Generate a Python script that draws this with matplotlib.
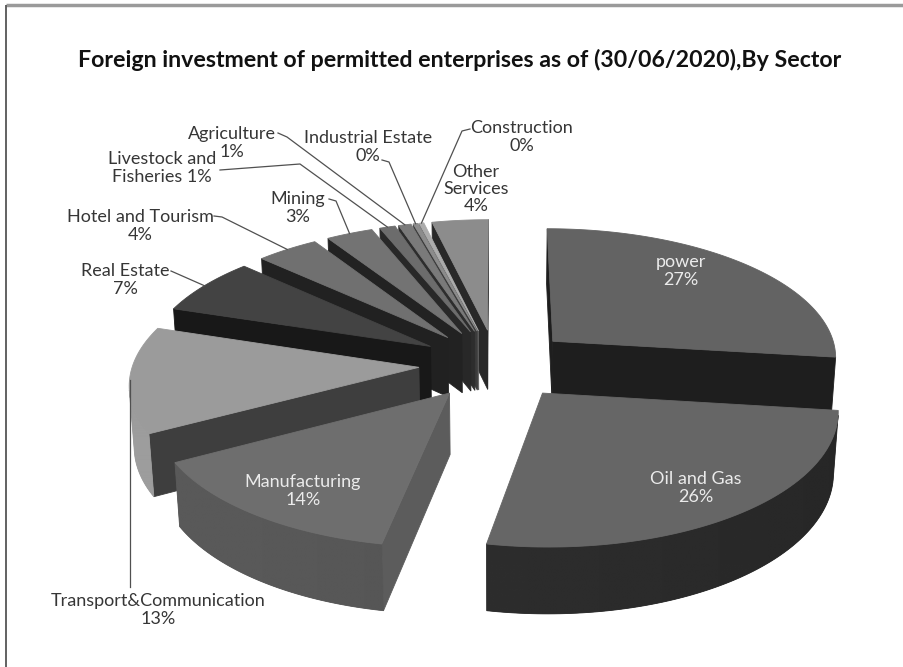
import numpy as np
import matplotlib.pyplot as plt
from matplotlib.patches import Polygon

# ---- data -------------------------------------------------------------
sectors = ["power", "Oil and Gas", "Manufacturing", "Transport&Communication",
           "Real Estate", "Hotel and Tourism", "Mining", "Livestock and\nFisheries",
           "Agriculture", "Industrial Estate", "Construction", "Other\nServices"]
shares = [27.0, 26.0, 14.0, 13.0, 7.0, 4.0, 3.0, 1.0, 0.8, 0.3, 0.3, 3.6]
label_sep = ["\n", "\n", "\n", "\n", "\n", "\n", "\n", " ", "\n", "\n", "\n", "\n"]

# ---- styles (grey levels: top face, outer rim, cut face) ---------------
top_gray = [99, 102, 110, 155, 67, 112, 115, 108, 122, 140, 172, 140]
rim_gray = [40, 42, 80, 140, 42, 60, 62, 60, 70, 85, 120, 95]
cut_gray = [30, 40, 92, 62, 24, 33, 34, 40, 45, 60, 95, 40]

# label layout: (x, y) centre of the text block in pixels, leader path
label_pos = [(681, 271), (696, 488), (303, 491), (158, 610), (125, 280),
             (140, 226), (298, 208), (162, 168), (232, 143), (368, 147),
             (522, 137), (476, 189)]
inside = [True, True, True, False, False, False, False, False, False, False, False, False]
leader_path = [None, None, None, "vertical",
               [(171, 271)],
               [(214, 216), (222, 217)],
               [(329, 199), (336, 201)],
               [(220, 170), (300, 164)],
               [(278, 133), (287, 137)],
               [(382, 160), (389, 162)],
               [(470, 129), (462, 131)],
               None]

W, H = 904, 667
fig = plt.figure(figsize=(W / 100, H / 100), dpi=100)
ax = fig.add_axes([0, 0, 1, 1])
ax.axis("off")

# ---- perspective camera ------------------------------------------------
tilt = np.radians(27)
focal = 8.0
scale = 286.0
cx, cy = 496.0, 364.0
thick = 0.24
explode = 0.27
cam = np.array([0.0, -focal * np.cos(tilt), focal * np.sin(tilt)])


def proj(p):
    x, y, z = p
    v = y * np.sin(tilt) + z * np.cos(tilt)
    w = y * np.cos(tilt) - z * np.sin(tilt)
    k = focal / (focal + w)
    return (cx + scale * x * k, cy - scale * v * k)


def gray(level, factor=1.0):
    g = np.clip(level * factor, 0, 255) / 255.0
    return (g, g, g)


def visible(normal, pts):
    c = np.mean(pts, axis=0)
    return np.dot(normal, cam - c) > 0


total = float(sum(shares))
cum = np.concatenate([[0.0], np.cumsum(shares)]) / total
light = np.radians(-150)

slices = []
for i, v in enumerate(shares):
    a0 = np.radians(90 - 360 * cum[i])
    a1 = np.radians(90 - 360 * cum[i + 1])
    mid = 0.5 * (a0 + a1)
    off = explode * np.array([np.cos(mid), np.sin(mid), 0.0])
    n = max(3, int(abs(np.degrees(a0 - a1))) + 2)
    arc = np.linspace(a0, a1, n)
    rim_top = [off + np.array([np.cos(a), np.sin(a), 0.0]) for a in arc]
    rim_bot = [p + np.array([0, 0, -thick]) for p in rim_top]
    apex_t = off.copy()
    apex_b = off + np.array([0, 0, -thick])

    # visible stretch of the outer rim
    vis = []
    for j in range(n - 1):
        quad = [rim_top[j], rim_top[j + 1], rim_bot[j + 1], rim_bot[j]]
        am = 0.5 * (arc[j] + arc[j + 1])
        if visible(np.array([np.cos(am), np.sin(am), 0.0]), quad):
            vis.append(j)
    rim = None
    if vis:
        j0, j1 = vis[0], vis[-1] + 1
        pts = rim_top[j0:j1 + 1] + rim_bot[j0:j1 + 1][::-1]
        shade = [rim_gray[i] * (1.0 + 0.12 * np.cos(a - light)) for a in arc[j0:j1 + 1]]
        xs = [proj(p)[0] for p in rim_top[j0:j1 + 1]]
        rim = (pts, xs, shade, np.mean([np.linalg.norm(p - cam) for p in pts]))

    faces = []
    for ang, edge_t, edge_b, turn in ((a0, rim_top[0], rim_bot[0], np.pi / 2),
                                      (a1, rim_top[-1], rim_bot[-1], -np.pi / 2)):
        quad = [apex_t, edge_t, edge_b, apex_b]
        nrm = np.array([np.cos(ang + turn), np.sin(ang + turn), 0.0])
        if visible(nrm, quad):
            faces.append((np.mean([np.linalg.norm(p - cam) for p in quad]), quad))
    top = [apex_t] + rim_top
    centre = off + 0.55 * np.array([np.cos(mid), np.sin(mid), 0.0])
    rim_mid = off + np.array([np.cos(mid), np.sin(mid), 0.0])
    slices.append(dict(rim=rim, faces=faces, top=top, idx=i,
                       dist=np.linalg.norm(centre - cam), tip=proj(rim_mid)))

z = 1.0
for s in sorted(slices, key=lambda s: -s["dist"]):
    i = s["idx"]
    walls = [("cut", d, q) for d, q in s["faces"]]
    if s["rim"] is not None:
        walls.append(("rim", s["rim"][3], s["rim"]))
    walls.sort(key=lambda w: -w[1])
    for kind, _, item in walls:
        z += 0.01
        if kind == "cut":
            col = gray(cut_gray[i])
            ax.add_patch(Polygon([proj(p) for p in item], closed=True, facecolor=col,
                                 edgecolor=col, linewidth=0.6, zorder=z))
        else:
            pts, xs, shade, _ = item
            poly2d = np.array([proj(p) for p in pts])
            base = gray(np.mean(shade))
            patch = Polygon(poly2d, closed=True, facecolor=base, edgecolor=base,
                            linewidth=0.6, zorder=z)
            ax.add_patch(patch)
            x0, x1 = poly2d[:, 0].min(), poly2d[:, 0].max()
            y0, y1 = poly2d[:, 1].min(), poly2d[:, 1].max()
            order = np.argsort(xs)
            cols = np.linspace(x0, x1, 200)
            vals = np.interp(cols, np.array(xs)[order], np.array(shade)[order])
            z += 0.01
            im = ax.imshow(np.tile(vals, (2, 1)), cmap="gray", vmin=0, vmax=255,
                           extent=(x0, x1, y1, y0), aspect="auto",
                           interpolation="bilinear", zorder=z)
            im.set_clip_path(patch)
    z += 0.01
    col = gray(top_gray[i])
    ax.add_patch(Polygon([proj(p) for p in s["top"]], closed=True, facecolor=col,
                         edgecolor=col, linewidth=0.6, zorder=z))

# ---- labels and leader lines ------------------------------------------
font = "Lato"
for i, name in enumerate(sectors):
    pct = int(round(shares[i] / total * 100))
    txt = f"{name}{label_sep[i]}{pct}%"
    x, y = label_pos[i]
    ax.text(x, y, txt, ha="center", va="center", fontsize=13, family=font,
            color="#ebebeb" if inside[i] else "#363636", linespacing=1.1,
            zorder=50)
    path = leader_path[i]
    tx, ty = slices[i]["tip"]
    if path == "vertical":
        ax.plot([tx, tx], [y - 23, ty], color="#505050", lw=0.9, zorder=40)
    elif path:
        xs = [p[0] for p in path] + [tx]
        ys = [p[1] for p in path] + [ty]
        ax.plot(xs, ys, color="#505050", lw=0.9, zorder=40)

ax.text(460, 60, "Foreign investment of permitted enterprises as of (30/06/2020),By Sector",
        ha="center", va="center", fontsize=16.7, fontweight="bold", family=font,
        color="#111111", zorder=50)

# chart frame
ax.plot([6, W], [5, 5], color="#9a9a9a", lw=2.5, solid_capstyle="butt", zorder=60)
ax.plot([6, 6], [5, H], color="#555555", lw=1.3, solid_capstyle="butt", zorder=60)

ax.set_xlim(0, W)
ax.set_ylim(H, 0)
fig.savefig("out.png", dpi=100)
